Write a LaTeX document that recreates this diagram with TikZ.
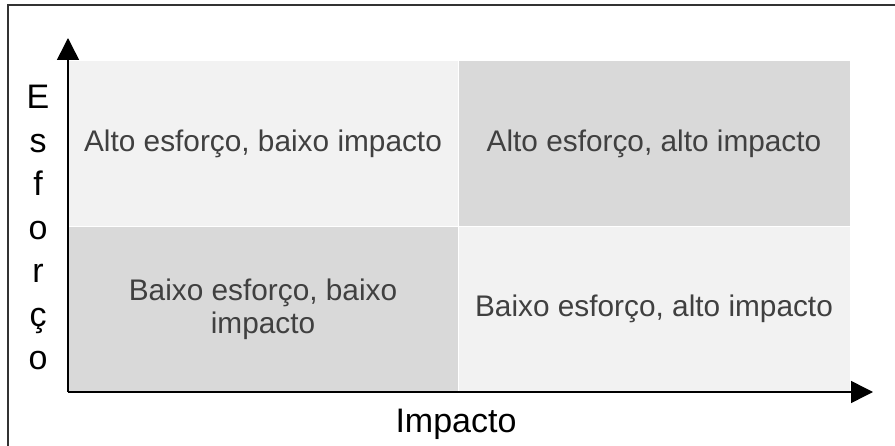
\documentclass[tikz,border=0pt]{standalone}
\usepackage{fontspec}
\setmainfont{Liberation Sans}
\usetikzlibrary{arrows.meta}
\definecolor{lightcell}{HTML}{F2F2F2}
\definecolor{darkcell}{HTML}{D9D9D9}
\definecolor{celltext}{HTML}{404040}
\tikzset{
  cell/.style={inner sep=0pt, align=center, text=celltext,
    font=\fontsize{29.8}{33}\selectfont},
  axislabel/.style={inner sep=0pt, anchor=base, font=\fontsize{34}{40}\selectfont},
  axis/.style={line width=1.5pt, -{Triangle[length=22pt,width=22pt]}}
}
\begin{document}
\begin{tikzpicture}[x=1pt,y=1pt]
          \useasboundingbox (0,0) rectangle (895,445);
          \draw[line width=1.8pt, draw=black!80] (8,-20) rectangle (920,440);

          % quadrants
          \node[cell, fill=lightcell, minimum width=389, minimum height=165]
            (altobaixo) at (263,301) {Alto esforço, baixo impacto};
          \node[cell, fill=darkcell, minimum width=391, minimum height=165]
            (altoalto) at (654,301) {Alto esforço, alto impacto};
          \node[cell, fill=darkcell, minimum width=389, minimum height=164]
            (baixobaixo) at (263,136) {Baixo esforço, baixo\\impacto};
          \node[cell, fill=lightcell, minimum width=391, minimum height=164]
            (baixoalto) at (654,136) {Baixo esforço, alto impacto};

          % axes
          \coordinate (origin) at (68,53);
          \coordinate (ytip) at (68,407);
          \coordinate (xtip) at (873,53);
          \draw[axis] (origin) -- (ytip);
          \draw[axis] (origin) -- (xtip);

          \node[axislabel] (impacto) at (456,13) {Impacto};
          \foreach \c [count=\i from 0] in {E,s,f,o,r,ç,o}
            \node[axislabel] (esforco\i) at (38,336-43.5*\i) {\c};
          \end{tikzpicture}
\end{document}
